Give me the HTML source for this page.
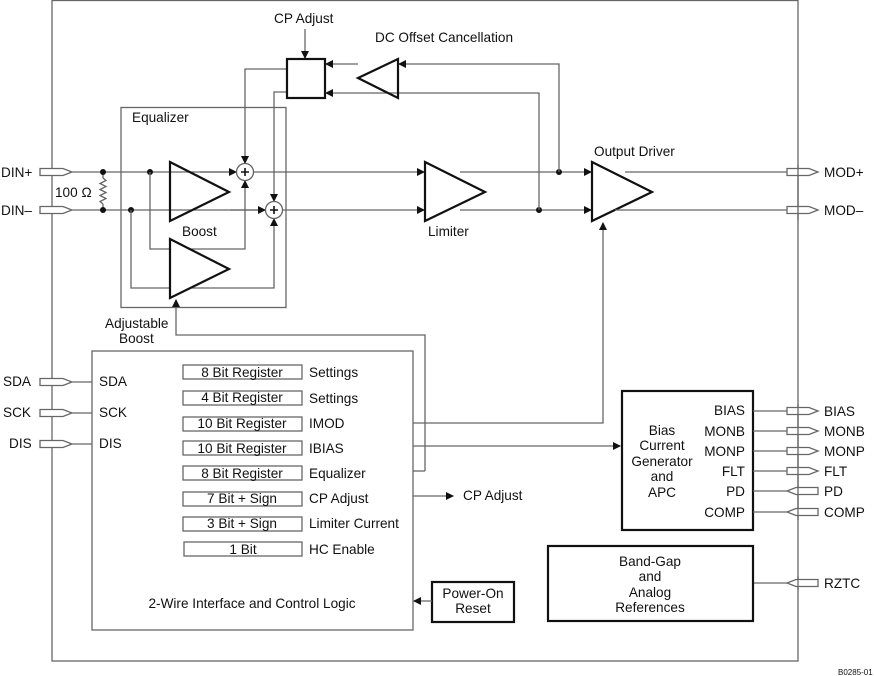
<!DOCTYPE html>
<html><head><meta charset="utf-8"><style>
html,body{margin:0;padding:0;background:#fff;}
svg{display:block;}
text{font-family:"Liberation Sans",Arial,sans-serif;font-size:13.6px;fill:#111;}
.l{stroke:#666;stroke-width:1.3;fill:none;}
.t{stroke:#111;stroke-width:2.2;fill:#fff;}
.b{stroke:#666;stroke-width:1.3;fill:#fff;}
.a{fill:#111;}
</style></head><body>
<svg width="874" height="676" viewBox="0 0 874 676" xmlns="http://www.w3.org/2000/svg">
<defs>
<marker id="ar" markerWidth="8" markerHeight="8" refX="7" refY="4" orient="auto" markerUnits="userSpaceOnUse"><path d="M0,0 L8,4 L0,8 z" fill="#111"/></marker>
</defs>
<rect x="52" y="0.5" width="746" height="660.5" class="l"/>

<g class="b">
<path d="M40,168.5 h23 l9,3.5 l-9,3.5 h-23 z"/>
<path d="M40,206.5 h23 l9,3.5 l-9,3.5 h-23 z"/>
<path d="M40,378.5 h23 l9,3.5 l-9,3.5 h-23 z"/>
<path d="M40,409.5 h23 l9,3.5 l-9,3.5 h-23 z"/>
<path d="M40,440.5 h23 l9,3.5 l-9,3.5 h-23 z"/>
</g>
<text x="1" y="177">DIN+</text>
<text x="1" y="215">DIN–</text>
<text x="3" y="386">SDA</text>
<text x="3" y="417">SCK</text>
<text x="9" y="448">DIS</text>

<path class="l" d="M72,172 H236"/>
<path class="l" d="M72,210 H265"/>
<path class="l" d="M103,172 V178 M103,204 V210"/>
<path class="l" d="M103,178 l3,2.5 l-6,3 l6,3 l-6,3 l6,3 l-6,3 l6,3 l-6,3 l3,2.5"/>
<text x="55" y="197">100 Ω</text>
<circle cx="103" cy="172" r="3" class="a"/>
<circle cx="103" cy="210" r="3" class="a"/>
<circle cx="150" cy="172" r="3" class="a"/>
<circle cx="131" cy="210" r="3" class="a"/>

<rect x="121" y="107.5" width="165" height="200" class="l"/>
<text x="132" y="122">Equalizer</text>

<path class="l" d="M150,172 V249 H245 V181" marker-end="url(#ar)"/>
<path class="l" d="M131,210 V288 H274 V219" marker-end="url(#ar)"/>
<path class="l" d="M286,69 H245 V163" marker-end="url(#ar)"/>
<path class="l" d="M286,92 H274 V201" marker-end="url(#ar)"/>
<path class="l" d="M200,172 H236" marker-end="url(#ar)"/>
<path class="l" d="M230,210 H265" marker-end="url(#ar)"/>

<path class="t" d="M170,162 L229,192 L170,221 z" style="fill:none"/>
<path class="t" d="M170,239 L229,269 L170,298 z"/>
<text x="182" y="236">Boost</text>
<path class="l" d="M425,471 V335 H176 V300" marker-end="url(#ar)"/>
<text x="105" y="328">Adjustable</text>
<text x="119" y="343">Boost</text>

<circle cx="245" cy="172" r="8.5" class="b"/>
<path d="M241,172 h8 M245,168 v8" stroke="#111" stroke-width="1.6"/>
<circle cx="274" cy="210" r="8.5" class="b"/>
<path d="M270,210 h8 M274,206 v8" stroke="#111" stroke-width="1.6"/>

<path class="l" d="M254,172 H424" marker-end="url(#ar)"/>
<path class="l" d="M283,210 H424" marker-end="url(#ar)"/>

<path class="t" d="M425,162 L485,192 L425,221 z"/>
<text x="428" y="236">Limiter</text>
<path class="l" d="M460,172 H591" marker-end="url(#ar)"/>
<path class="l" d="M460,210 H591" marker-end="url(#ar)"/>
<circle cx="559" cy="172" r="3" class="a"/>
<circle cx="539" cy="210" r="3" class="a"/>

<path class="l" d="M559,172 V64 H399" marker-end="url(#ar)"/>
<path class="l" d="M539,210 V93 H326" marker-end="url(#ar)"/>
<path class="l" d="M358,64 H326" marker-end="url(#ar)"/>
<path class="t" d="M398,59 L358,78 L398,98 z" style="fill:none"/>
<text x="375" y="42">DC Offset Cancellation</text>

<rect x="287" y="59" width="38" height="39" class="t"/>
<path class="l" d="M305,29 V58" marker-end="url(#ar)"/>
<text x="274" y="23">CP Adjust</text>

<path class="t" d="M592,162 L652,192 L592,221 z"/>
<text x="594" y="156">Output Driver</text>
<path class="l" d="M625,172 H787 M615,210 H787"/>
<path class="l" d="M413,423 H603 V223" marker-end="url(#ar)"/>

<g class="b">
<path d="M787,168.5 h22 l9,3.5 l-9,3.5 h-22 z"/>
<path d="M787,206.5 h22 l9,3.5 l-9,3.5 h-22 z"/>
<path d="M787,407.5 h22 l9,3.5 l-9,3.5 h-22 z"/>
<path d="M787,427.5 h22 l9,3.5 l-9,3.5 h-22 z"/>
<path d="M787,447.5 h22 l9,3.5 l-9,3.5 h-22 z"/>
<path d="M787,467.5 h22 l9,3.5 l-9,3.5 h-22 z"/>
<path d="M818,487.5 h-22 l-9,3.5 l9,3.5 h22 z"/>
<path d="M818,508.5 h-22 l-9,3.5 l9,3.5 h22 z"/>
<path d="M818,579.5 h-22 l-9,3.5 l9,3.5 h22 z"/>
</g>
<path class="l" d="M798,165 V220 M798,404 V520 M798,576 V590"/>
<text x="824" y="177">MOD+</text>
<text x="824" y="215">MOD–</text>
<text x="824" y="416">BIAS</text>
<text x="824" y="436">MONB</text>
<text x="824" y="456">MONP</text>
<text x="824" y="476">FLT</text>
<text x="824" y="496">PD</text>
<text x="824" y="517">COMP</text>
<text x="824" y="588">RZTC</text>

<rect x="92" y="351" width="321" height="279" class="l"/>
<path class="l" d="M72,382 H92 M72,413 H92 M72,444 H92"/>
<text x="99" y="386">SDA</text>
<text x="99" y="417">SCK</text>
<text x="99" y="448">DIS</text>
<g class="l">
<rect x="183" y="365" width="119" height="14"/>
<rect x="183" y="391" width="119" height="14"/>
<rect x="183" y="417" width="119" height="14"/>
<rect x="183" y="441" width="119" height="14"/>
<rect x="183" y="466" width="119" height="14"/>
<rect x="183" y="492" width="119" height="14"/>
<rect x="183" y="517" width="119" height="14"/>
<rect x="184" y="542" width="118" height="14"/>
</g>
<g text-anchor="middle">
<text x="242" y="377">8 Bit Register</text>
<text x="242" y="402">4 Bit Register</text>
<text x="242" y="428">10 Bit Register</text>
<text x="242" y="453">10 Bit Register</text>
<text x="242" y="478">8 Bit Register</text>
<text x="242" y="503">7 Bit + Sign</text>
<text x="242" y="528">3 Bit + Sign</text>
<text x="243" y="554">1 Bit</text>
<text x="252" y="608">2-Wire Interface and Control Logic</text>
</g>
<text x="309" y="377">Settings</text>
<text x="309" y="403">Settings</text>
<text x="309" y="428">IMOD</text>
<text x="309" y="453">IBIAS</text>
<text x="309" y="478">Equalizer</text>
<text x="309" y="503">CP Adjust</text>
<text x="309" y="528">Limiter Current</text>
<text x="309" y="554">HC Enable</text>

<path class="l" d="M413,471 H425"/>
<path class="l" d="M413,446 H620" marker-end="url(#ar)"/>
<path class="l" d="M413,496 H453" marker-end="url(#ar)"/>
<text x="463" y="500">CP Adjust</text>

<rect x="432" y="582" width="82" height="40" class="t"/>
<text x="473" y="598" text-anchor="middle">Power-On</text>
<text x="473" y="613" text-anchor="middle">Reset</text>
<path class="l" d="M432,601 H414" marker-end="url(#ar)"/>

<rect x="622" y="391" width="131" height="139" class="t"/>
<g text-anchor="middle">
<text x="662" y="435">Bias</text>
<text x="662" y="450">Current</text>
<text x="662" y="466">Generator</text>
<text x="662" y="481">and</text>
<text x="662" y="497">APC</text>
</g>
<g text-anchor="end">
<text x="745" y="415">BIAS</text>
<text x="745" y="436">MONB</text>
<text x="745" y="456">MONP</text>
<text x="745" y="476">FLT</text>
<text x="745" y="496">PD</text>
<text x="745" y="517">COMP</text>
<text x="745" y="588">RZTC</text>
</g>
<path class="l" d="M753,411 H787 M753,431 H787 M753,451 H787 M753,471 H787 M753,491 H787 M753,512 H787 M753,583 H787"/>

<rect x="548" y="546" width="205" height="75" class="t"/>
<g text-anchor="middle">
<text x="650" y="566">Band-Gap</text>
<text x="650" y="581">and</text>
<text x="650" y="597">Analog</text>
<text x="650" y="612">References</text>
</g>
<text x="838" y="675" style="font-size:8px">B0285-01</text>
</svg>
</body></html>
